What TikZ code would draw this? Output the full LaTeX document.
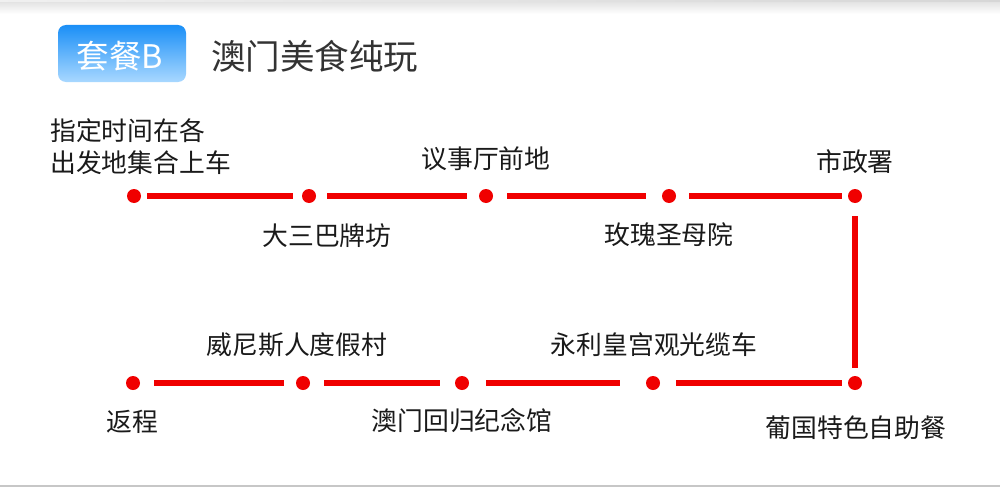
\documentclass[tikz,border=0pt]{standalone}
\usepackage{fontspec}
\setmainfont{Noto Sans CJK SC}
\usetikzlibrary{shadings}
\definecolor{routered}{HTML}{F00000}
\definecolor{txt}{HTML}{1A1A1A}
\definecolor{titlegray}{HTML}{333333}
\definecolor{bluetop}{HTML}{1A8FF7}
\definecolor{bluebot}{HTML}{A9D8FF}
\tikzset{
  stop/.style={circle, fill=routered, inner sep=0pt, minimum size=14pt},
  route/.style={draw=routered, line width=6pt},
  lbl/.style={text=txt, font=\fontsize{25.8}{30}\selectfont, inner sep=0pt, align=left},
}
\begin{document}
\begin{tikzpicture}[x=1pt,y=-1pt]
\useasboundingbox (0,0) rectangle (1000,487);
\fill[white] (0,0) rectangle (1000,487);
% top shadow and bottom rule
\shade[left color=black!6, right color=black!16] (0,0) rectangle (1000,3);
\shade[top color=black!10, bottom color=white] (0,3) rectangle (1000,14);
\fill[black!22] (0,485) rectangle (1000,487);
% title
\shade[rounded corners=8pt, top color=bluetop, bottom color=bluebot] (58,25) rectangle (186,82);
\node[text=white, font=\fontsize{32.5}{36}\selectfont, inner sep=0pt] (tag) at (120,56) {套餐B};
\node[text=titlegray, font=\fontsize{34.5}{40}\selectfont, inner sep=0pt, anchor=west] (title) at (211,56) {澳门美食纯玩};
% stops
\node[stop] (s1) at (134,196) {};
\node[stop] (s2) at (309,196) {};
\node[stop] (s3) at (486,196) {};
\node[stop] (s4) at (669,196) {};
\node[stop] (s5) at (855,196) {};
\node[stop] (s6) at (855,383) {};
\node[stop] (s7) at (653,383) {};
\node[stop] (s8) at (462,383) {};
\node[stop] (s9) at (303,383) {};
\node[stop] (s10) at (133,383) {};
% connectors
\draw[route, shorten <=6pt, shorten >=9pt] (s1) -- (s2);
\draw[route, shorten <=11pt, shorten >=12pt] (s2) -- (s3);
\draw[route, shorten <=14pt, shorten >=16pt] (s3) -- (s4);
\draw[route, shorten <=13pt, shorten >=6pt] (s4) -- (s5);
\draw[route, shorten <=13pt, shorten >=8pt] (s5) -- (s6);
\draw[route, shorten <=6pt, shorten >=16pt] (s6) -- (s7);
\draw[route, shorten <=26pt, shorten >=17pt] (s7) -- (s8);
\draw[route, shorten <=15pt, shorten >=14pt] (s8) -- (s9);
\draw[route, shorten <=12pt, shorten >=14pt] (s9) -- (s10);
% labels
\node[lbl, anchor=west] (l1a) at (50,131) {指定时间在各};
\node[lbl, anchor=west] (l1b) at (50,163) {出发地集合上车};
\node[lbl] (l2) at (327,236) {大三巴牌坊};
\node[lbl] (l3) at (486,159) {议事厅前地};
\node[lbl] (l4) at (669,235) {玫瑰圣母院};
\node[lbl] (l5) at (855,162) {市政署};
\node[lbl] (l6) at (856,428) {葡国特色自助餐};
\node[lbl] (l7) at (654,345) {永利皇宫观光缆车};
\node[lbl] (l8) at (462,421) {澳门回归纪念馆};
\node[lbl] (l9) at (297,345) {威尼斯人度假村};
\node[lbl] (l10) at (132,422) {返程};
\end{tikzpicture}
\end{document}
